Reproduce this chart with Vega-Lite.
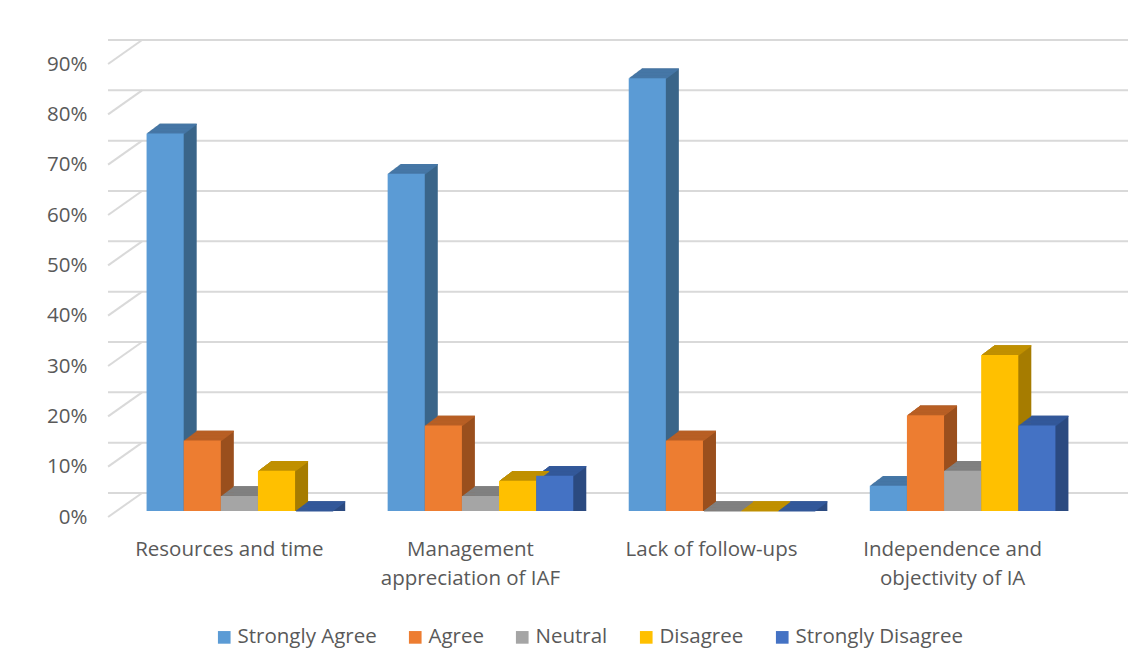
{
  "$schema": "https://vega.github.io/schema/vega-lite/v6.json",
  "autosize": "none",
  "width": 986,
  "height": 453,
  "padding": {"left": 108, "top": 58, "right": 51, "bottom": 160},
  "background": "#ffffff",
  "config": {
    "view": {"stroke": null},
    "font": "Open Sans"
  },
  "datasets": {
    "survey": [
      {"factor": "Resources and time", "response": "Strongly Agree", "share": 0.75},
      {"factor": "Resources and time", "response": "Agree", "share": 0.14},
      {"factor": "Resources and time", "response": "Neutral", "share": 0.03},
      {"factor": "Resources and time", "response": "Disagree", "share": 0.08},
      {"factor": "Resources and time", "response": "Strongly Disagree", "share": 0.0},
      {"factor": "Management appreciation of IAF", "response": "Strongly Agree", "share": 0.67},
      {"factor": "Management appreciation of IAF", "response": "Agree", "share": 0.17},
      {"factor": "Management appreciation of IAF", "response": "Neutral", "share": 0.03},
      {"factor": "Management appreciation of IAF", "response": "Disagree", "share": 0.06},
      {"factor": "Management appreciation of IAF", "response": "Strongly Disagree", "share": 0.07},
      {"factor": "Lack of follow-ups", "response": "Strongly Agree", "share": 0.86},
      {"factor": "Lack of follow-ups", "response": "Agree", "share": 0.14},
      {"factor": "Lack of follow-ups", "response": "Neutral", "share": 0.0},
      {"factor": "Lack of follow-ups", "response": "Disagree", "share": 0.0},
      {"factor": "Lack of follow-ups", "response": "Strongly Disagree", "share": 0.0},
      {"factor": "Independence and objectivity of IA", "response": "Strongly Agree", "share": 0.05},
      {"factor": "Independence and objectivity of IA", "response": "Agree", "share": 0.19},
      {"factor": "Independence and objectivity of IA", "response": "Neutral", "share": 0.08},
      {"factor": "Independence and objectivity of IA", "response": "Disagree", "share": 0.31},
      {"factor": "Independence and objectivity of IA", "response": "Strongly Disagree", "share": 0.17}
    ],
    "gridLevels": [
      {"level": 0.0}, {"level": 0.1}, {"level": 0.2}, {"level": 0.3}, {"level": 0.4},
      {"level": 0.5}, {"level": 0.6}, {"level": 0.7}, {"level": 0.8}, {"level": 0.9}
    ]
  },
  "layer": [
    {
      "data": {"name": "gridLevels"},
      "mark": {"type": "rule", "color": "#d9d9d9", "strokeWidth": 2, "xOffset": 34, "x2Offset": 11, "yOffset": -18},
      "encoding": {
        "y": {
          "field": "level", "type": "quantitative", "scale": {"domain": [0, 0.9], "nice": false},
          "axis": {
            "title": null, "domain": false, "ticks": false, "tickSize": 0, "grid": false,
            "values": [0, 0.1, 0.2, 0.3, 0.4, 0.5, 0.6, 0.7, 0.8, 0.9], "format": ".0%",
            "labelFontSize": 20.5, "labelColor": "#595959", "labelPadding": 21, "labelOffset": 6
          }
        }
      }
    },
    {
      "data": {"name": "gridLevels"},
      "mark": {"type": "rule", "color": "#d9d9d9", "strokeWidth": 2, "xOffset": -131.3, "x2Offset": -97.3, "yOffset": 6, "y2Offset": -18},
      "encoding": {
        "x": {"datum": "Resources and time", "type": "nominal",
              "scale": {"domain": ["Resources and time", "Management appreciation of IAF", "Lack of follow-ups", "Independence and objectivity of IA"]}},
        "x2": {"datum": "Resources and time"},
        "y": {"field": "level", "type": "quantitative"},
        "y2": {"field": "level"}
      }
    },
    {
      "data": {"name": "survey"},
      "encoding": {
        "x": {
          "field": "factor", "type": "nominal",
          "scale": {"domain": ["Resources and time", "Management appreciation of IAF", "Lack of follow-ups", "Independence and objectivity of IA"], "paddingInner": 0.23, "paddingOuter": 0.16},
          "axis": {
            "title": null, "domain": false, "ticks": false, "tickSize": 0, "grid": false, "bandPosition": 0.5,
            "labelAngle": 0, "labelAlign": "center", "labelFontSize": 20.5, "labelColor": "#595959", "labelPadding": 44,
            "labelBaseline": "alphabetic", "labelLineHeight": 29, "labelOffset": -10, "labelLimit": 400,
            "labelExpr": "datum.label == 'Management appreciation of IAF' ? ['Management', 'appreciation of IAF'] : datum.label == 'Independence and objectivity of IA' ? ['Independence and', 'objectivity of IA'] : datum.label"
          }
        },
        "y": {
          "field": "share", "type": "quantitative", "stack": null,
          "scale": {"domain": [0, 0.9], "nice": false},
          "axis": {
            "title": null, "domain": false, "ticks": false, "tickSize": 0, "grid": false,
            "values": [0, 0.1, 0.2, 0.3, 0.4, 0.5, 0.6, 0.7, 0.8, 0.9], "format": ".0%",
            "labelFontSize": 20.5, "labelColor": "#595959", "labelPadding": 21, "labelOffset": 6
          }
        }
      },
      "layer": [
        {"mark": {"type": "bar", "yOffset": -0.75, "y2Offset": -0.75}, "encoding": {"xOffset": {"field": "response", "scale": {"domain": ["Strongly Agree", "Agree", "Neutral", "Disagree", "Strongly Disagree"], "range": [1, 186.63], "paddingInner": 0, "paddingOuter": 0}}, "fill": {"field": "response", "scale": {"domain": ["Strongly Agree", "Agree", "Neutral", "Disagree", "Strongly Disagree"], "range": ["#3a6589", "#9a4f1d", "#6e6e6e", "#a67c00", "#2b4a80"]}, "legend": null}}},
        {"mark": {"type": "bar", "yOffset": -1.5, "y2Offset": -1.5}, "encoding": {"xOffset": {"field": "response", "scale": {"domain": ["Strongly Agree", "Agree", "Neutral", "Disagree", "Strongly Disagree"], "range": [2, 187.63], "paddingInner": 0, "paddingOuter": 0}}, "fill": {"field": "response", "scale": {"domain": ["Strongly Agree", "Agree", "Neutral", "Disagree", "Strongly Disagree"], "range": ["#3a6589", "#9a4f1d", "#6e6e6e", "#a67c00", "#2b4a80"]}, "legend": null}}},
        {"mark": {"type": "bar", "yOffset": -2.25, "y2Offset": -2.25}, "encoding": {"xOffset": {"field": "response", "scale": {"domain": ["Strongly Agree", "Agree", "Neutral", "Disagree", "Strongly Disagree"], "range": [3, 188.63], "paddingInner": 0, "paddingOuter": 0}}, "fill": {"field": "response", "scale": {"domain": ["Strongly Agree", "Agree", "Neutral", "Disagree", "Strongly Disagree"], "range": ["#3a6589", "#9a4f1d", "#6e6e6e", "#a67c00", "#2b4a80"]}, "legend": null}}},
        {"mark": {"type": "bar", "yOffset": -3, "y2Offset": -3}, "encoding": {"xOffset": {"field": "response", "scale": {"domain": ["Strongly Agree", "Agree", "Neutral", "Disagree", "Strongly Disagree"], "range": [4, 189.63], "paddingInner": 0, "paddingOuter": 0}}, "fill": {"field": "response", "scale": {"domain": ["Strongly Agree", "Agree", "Neutral", "Disagree", "Strongly Disagree"], "range": ["#3a6589", "#9a4f1d", "#6e6e6e", "#a67c00", "#2b4a80"]}, "legend": null}}},
        {"mark": {"type": "bar", "yOffset": -3.75, "y2Offset": -3.75}, "encoding": {"xOffset": {"field": "response", "scale": {"domain": ["Strongly Agree", "Agree", "Neutral", "Disagree", "Strongly Disagree"], "range": [5, 190.63], "paddingInner": 0, "paddingOuter": 0}}, "fill": {"field": "response", "scale": {"domain": ["Strongly Agree", "Agree", "Neutral", "Disagree", "Strongly Disagree"], "range": ["#3a6589", "#9a4f1d", "#6e6e6e", "#a67c00", "#2b4a80"]}, "legend": null}}},
        {"mark": {"type": "bar", "yOffset": -4.5, "y2Offset": -4.5}, "encoding": {"xOffset": {"field": "response", "scale": {"domain": ["Strongly Agree", "Agree", "Neutral", "Disagree", "Strongly Disagree"], "range": [6, 191.63], "paddingInner": 0, "paddingOuter": 0}}, "fill": {"field": "response", "scale": {"domain": ["Strongly Agree", "Agree", "Neutral", "Disagree", "Strongly Disagree"], "range": ["#3a6589", "#9a4f1d", "#6e6e6e", "#a67c00", "#2b4a80"]}, "legend": null}}},
        {"mark": {"type": "bar", "yOffset": -5.25, "y2Offset": -5.25}, "encoding": {"xOffset": {"field": "response", "scale": {"domain": ["Strongly Agree", "Agree", "Neutral", "Disagree", "Strongly Disagree"], "range": [7, 192.63], "paddingInner": 0, "paddingOuter": 0}}, "fill": {"field": "response", "scale": {"domain": ["Strongly Agree", "Agree", "Neutral", "Disagree", "Strongly Disagree"], "range": ["#3a6589", "#9a4f1d", "#6e6e6e", "#a67c00", "#2b4a80"]}, "legend": null}}},
        {"mark": {"type": "bar", "yOffset": -6, "y2Offset": -6}, "encoding": {"xOffset": {"field": "response", "scale": {"domain": ["Strongly Agree", "Agree", "Neutral", "Disagree", "Strongly Disagree"], "range": [8, 193.63], "paddingInner": 0, "paddingOuter": 0}}, "fill": {"field": "response", "scale": {"domain": ["Strongly Agree", "Agree", "Neutral", "Disagree", "Strongly Disagree"], "range": ["#3a6589", "#9a4f1d", "#6e6e6e", "#a67c00", "#2b4a80"]}, "legend": null}}},
        {"mark": {"type": "bar", "yOffset": -6.75, "y2Offset": -6.75}, "encoding": {"xOffset": {"field": "response", "scale": {"domain": ["Strongly Agree", "Agree", "Neutral", "Disagree", "Strongly Disagree"], "range": [9, 194.63], "paddingInner": 0, "paddingOuter": 0}}, "fill": {"field": "response", "scale": {"domain": ["Strongly Agree", "Agree", "Neutral", "Disagree", "Strongly Disagree"], "range": ["#3a6589", "#9a4f1d", "#6e6e6e", "#a67c00", "#2b4a80"]}, "legend": null}}},
        {"mark": {"type": "bar", "yOffset": -7.5, "y2Offset": -7.5}, "encoding": {"xOffset": {"field": "response", "scale": {"domain": ["Strongly Agree", "Agree", "Neutral", "Disagree", "Strongly Disagree"], "range": [10, 195.63], "paddingInner": 0, "paddingOuter": 0}}, "fill": {"field": "response", "scale": {"domain": ["Strongly Agree", "Agree", "Neutral", "Disagree", "Strongly Disagree"], "range": ["#3a6589", "#9a4f1d", "#6e6e6e", "#a67c00", "#2b4a80"]}, "legend": null}}},
        {"mark": {"type": "bar", "yOffset": -8.25, "y2Offset": -8.25}, "encoding": {"xOffset": {"field": "response", "scale": {"domain": ["Strongly Agree", "Agree", "Neutral", "Disagree", "Strongly Disagree"], "range": [11, 196.63], "paddingInner": 0, "paddingOuter": 0}}, "fill": {"field": "response", "scale": {"domain": ["Strongly Agree", "Agree", "Neutral", "Disagree", "Strongly Disagree"], "range": ["#3a6589", "#9a4f1d", "#6e6e6e", "#a67c00", "#2b4a80"]}, "legend": null}}},
        {"mark": {"type": "bar", "yOffset": -9, "y2Offset": -9}, "encoding": {"xOffset": {"field": "response", "scale": {"domain": ["Strongly Agree", "Agree", "Neutral", "Disagree", "Strongly Disagree"], "range": [12, 197.63], "paddingInner": 0, "paddingOuter": 0}}, "fill": {"field": "response", "scale": {"domain": ["Strongly Agree", "Agree", "Neutral", "Disagree", "Strongly Disagree"], "range": ["#3a6589", "#9a4f1d", "#6e6e6e", "#a67c00", "#2b4a80"]}, "legend": null}}},
        {"mark": {"type": "bar", "yOffset": -9.75, "y2Offset": -9.75}, "encoding": {"xOffset": {"field": "response", "scale": {"domain": ["Strongly Agree", "Agree", "Neutral", "Disagree", "Strongly Disagree"], "range": [13, 198.63], "paddingInner": 0, "paddingOuter": 0}}, "fill": {"field": "response", "scale": {"domain": ["Strongly Agree", "Agree", "Neutral", "Disagree", "Strongly Disagree"], "range": ["#3a6589", "#9a4f1d", "#6e6e6e", "#a67c00", "#2b4a80"]}, "legend": null}}},

        {"mark": {"type": "bar", "yOffset": -0.75, "y2Offset": 0.5}, "encoding": {"y2": {"field": "share"}, "xOffset": {"field": "response", "scale": {"domain": ["Strongly Agree", "Agree", "Neutral", "Disagree", "Strongly Disagree"], "range": [1, 186.63], "paddingInner": 0, "paddingOuter": 0}}, "fill": {"field": "response", "scale": {"domain": ["Strongly Agree", "Agree", "Neutral", "Disagree", "Strongly Disagree"], "range": ["#4677a6", "#b85f24", "#808080", "#c09000", "#33589a"]}, "legend": null}}},
        {"mark": {"type": "bar", "yOffset": -1.5, "y2Offset": -0.25}, "encoding": {"y2": {"field": "share"}, "xOffset": {"field": "response", "scale": {"domain": ["Strongly Agree", "Agree", "Neutral", "Disagree", "Strongly Disagree"], "range": [2, 187.63], "paddingInner": 0, "paddingOuter": 0}}, "fill": {"field": "response", "scale": {"domain": ["Strongly Agree", "Agree", "Neutral", "Disagree", "Strongly Disagree"], "range": ["#4677a6", "#b85f24", "#808080", "#c09000", "#33589a"]}, "legend": null}}},
        {"mark": {"type": "bar", "yOffset": -2.25, "y2Offset": -1}, "encoding": {"y2": {"field": "share"}, "xOffset": {"field": "response", "scale": {"domain": ["Strongly Agree", "Agree", "Neutral", "Disagree", "Strongly Disagree"], "range": [3, 188.63], "paddingInner": 0, "paddingOuter": 0}}, "fill": {"field": "response", "scale": {"domain": ["Strongly Agree", "Agree", "Neutral", "Disagree", "Strongly Disagree"], "range": ["#4677a6", "#b85f24", "#808080", "#c09000", "#33589a"]}, "legend": null}}},
        {"mark": {"type": "bar", "yOffset": -3, "y2Offset": -1.75}, "encoding": {"y2": {"field": "share"}, "xOffset": {"field": "response", "scale": {"domain": ["Strongly Agree", "Agree", "Neutral", "Disagree", "Strongly Disagree"], "range": [4, 189.63], "paddingInner": 0, "paddingOuter": 0}}, "fill": {"field": "response", "scale": {"domain": ["Strongly Agree", "Agree", "Neutral", "Disagree", "Strongly Disagree"], "range": ["#4677a6", "#b85f24", "#808080", "#c09000", "#33589a"]}, "legend": null}}},
        {"mark": {"type": "bar", "yOffset": -3.75, "y2Offset": -2.5}, "encoding": {"y2": {"field": "share"}, "xOffset": {"field": "response", "scale": {"domain": ["Strongly Agree", "Agree", "Neutral", "Disagree", "Strongly Disagree"], "range": [5, 190.63], "paddingInner": 0, "paddingOuter": 0}}, "fill": {"field": "response", "scale": {"domain": ["Strongly Agree", "Agree", "Neutral", "Disagree", "Strongly Disagree"], "range": ["#4677a6", "#b85f24", "#808080", "#c09000", "#33589a"]}, "legend": null}}},
        {"mark": {"type": "bar", "yOffset": -4.5, "y2Offset": -3.25}, "encoding": {"y2": {"field": "share"}, "xOffset": {"field": "response", "scale": {"domain": ["Strongly Agree", "Agree", "Neutral", "Disagree", "Strongly Disagree"], "range": [6, 191.63], "paddingInner": 0, "paddingOuter": 0}}, "fill": {"field": "response", "scale": {"domain": ["Strongly Agree", "Agree", "Neutral", "Disagree", "Strongly Disagree"], "range": ["#4677a6", "#b85f24", "#808080", "#c09000", "#33589a"]}, "legend": null}}},
        {"mark": {"type": "bar", "yOffset": -5.25, "y2Offset": -4}, "encoding": {"y2": {"field": "share"}, "xOffset": {"field": "response", "scale": {"domain": ["Strongly Agree", "Agree", "Neutral", "Disagree", "Strongly Disagree"], "range": [7, 192.63], "paddingInner": 0, "paddingOuter": 0}}, "fill": {"field": "response", "scale": {"domain": ["Strongly Agree", "Agree", "Neutral", "Disagree", "Strongly Disagree"], "range": ["#4677a6", "#b85f24", "#808080", "#c09000", "#33589a"]}, "legend": null}}},
        {"mark": {"type": "bar", "yOffset": -6, "y2Offset": -4.75}, "encoding": {"y2": {"field": "share"}, "xOffset": {"field": "response", "scale": {"domain": ["Strongly Agree", "Agree", "Neutral", "Disagree", "Strongly Disagree"], "range": [8, 193.63], "paddingInner": 0, "paddingOuter": 0}}, "fill": {"field": "response", "scale": {"domain": ["Strongly Agree", "Agree", "Neutral", "Disagree", "Strongly Disagree"], "range": ["#4677a6", "#b85f24", "#808080", "#c09000", "#33589a"]}, "legend": null}}},
        {"mark": {"type": "bar", "yOffset": -6.75, "y2Offset": -5.5}, "encoding": {"y2": {"field": "share"}, "xOffset": {"field": "response", "scale": {"domain": ["Strongly Agree", "Agree", "Neutral", "Disagree", "Strongly Disagree"], "range": [9, 194.63], "paddingInner": 0, "paddingOuter": 0}}, "fill": {"field": "response", "scale": {"domain": ["Strongly Agree", "Agree", "Neutral", "Disagree", "Strongly Disagree"], "range": ["#4677a6", "#b85f24", "#808080", "#c09000", "#33589a"]}, "legend": null}}},
        {"mark": {"type": "bar", "yOffset": -7.5, "y2Offset": -6.25}, "encoding": {"y2": {"field": "share"}, "xOffset": {"field": "response", "scale": {"domain": ["Strongly Agree", "Agree", "Neutral", "Disagree", "Strongly Disagree"], "range": [10, 195.63], "paddingInner": 0, "paddingOuter": 0}}, "fill": {"field": "response", "scale": {"domain": ["Strongly Agree", "Agree", "Neutral", "Disagree", "Strongly Disagree"], "range": ["#4677a6", "#b85f24", "#808080", "#c09000", "#33589a"]}, "legend": null}}},
        {"mark": {"type": "bar", "yOffset": -8.25, "y2Offset": -7}, "encoding": {"y2": {"field": "share"}, "xOffset": {"field": "response", "scale": {"domain": ["Strongly Agree", "Agree", "Neutral", "Disagree", "Strongly Disagree"], "range": [11, 196.63], "paddingInner": 0, "paddingOuter": 0}}, "fill": {"field": "response", "scale": {"domain": ["Strongly Agree", "Agree", "Neutral", "Disagree", "Strongly Disagree"], "range": ["#4677a6", "#b85f24", "#808080", "#c09000", "#33589a"]}, "legend": null}}},
        {"mark": {"type": "bar", "yOffset": -9, "y2Offset": -7.75}, "encoding": {"y2": {"field": "share"}, "xOffset": {"field": "response", "scale": {"domain": ["Strongly Agree", "Agree", "Neutral", "Disagree", "Strongly Disagree"], "range": [12, 197.63], "paddingInner": 0, "paddingOuter": 0}}, "fill": {"field": "response", "scale": {"domain": ["Strongly Agree", "Agree", "Neutral", "Disagree", "Strongly Disagree"], "range": ["#4677a6", "#b85f24", "#808080", "#c09000", "#33589a"]}, "legend": null}}},
        {"mark": {"type": "bar", "yOffset": -9.75, "y2Offset": -8.5}, "encoding": {"y2": {"field": "share"}, "xOffset": {"field": "response", "scale": {"domain": ["Strongly Agree", "Agree", "Neutral", "Disagree", "Strongly Disagree"], "range": [13, 198.63], "paddingInner": 0, "paddingOuter": 0}}, "fill": {"field": "response", "scale": {"domain": ["Strongly Agree", "Agree", "Neutral", "Disagree", "Strongly Disagree"], "range": ["#4677a6", "#b85f24", "#808080", "#c09000", "#33589a"]}, "legend": null}}},

        {
          "mark": {"type": "bar"},
          "encoding": {
            "xOffset": {"field": "response", "scale": {"domain": ["Strongly Agree", "Agree", "Neutral", "Disagree", "Strongly Disagree"], "paddingInner": 0, "paddingOuter": 0}},
            "color": {
              "field": "response", "type": "nominal",
              "scale": {"domain": ["Strongly Agree", "Agree", "Neutral", "Disagree", "Strongly Disagree"], "range": ["#5b9bd5", "#ed7d31", "#a5a5a5", "#ffc000", "#4472c4"]},
              "legend": {
                "title": null, "orient": "none", "direction": "horizontal", "legendX": 106, "legendY": 569,
                "symbolType": "square", "symbolSize": 160, "symbolStrokeWidth": 0, "labelLimit": 400,
                "labelFontSize": 20.5, "labelColor": "#595959", "labelOffset": 3, "columnPadding": 28
              }
            }
          }
        }
      ],
      "resolve": {"scale": {"xOffset": "independent", "fill": "independent"}}
    }
  ]
}
